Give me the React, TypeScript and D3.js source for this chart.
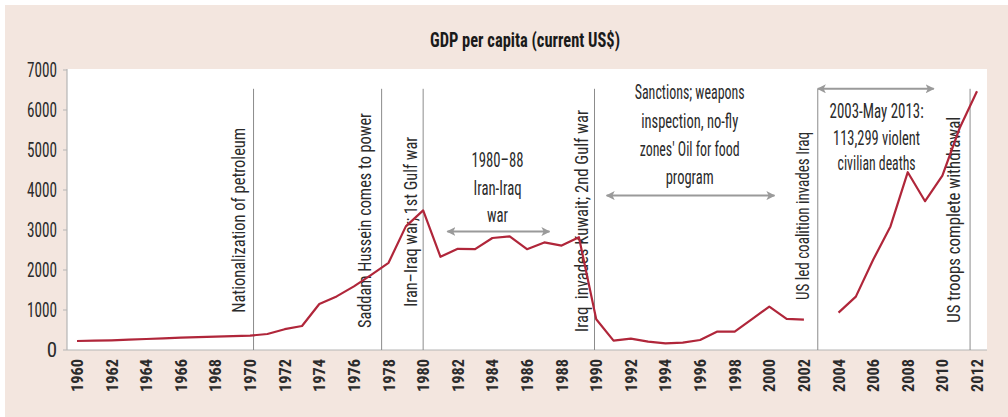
import React from "react";
import * as d3 from "d3";

const years: number[] = [
  1960, 1961, 1962, 1963, 1964, 1965, 1966, 1967, 1968, 1969,
  1970, 1971, 1972, 1973, 1974, 1975, 1976, 1977, 1978, 1979,
  1980, 1981, 1982, 1983, 1984, 1985, 1986, 1987, 1988, 1989,
  1990, 1991, 1992, 1993, 1994, 1995, 1996, 1997, 1998, 1999,
  2000, 2001, 2002, 2003, 2004, 2005, 2006, 2007, 2008, 2009,
  2010, 2011, 2012,
];
const gdp: (number | null)[] = [
  225, 235, 243, 258, 275, 292, 310, 322, 335, 348,
  360, 400, 520, 600, 1150, 1340, 1590, 1880, 2180, 3090,
  3490, 2330, 2530, 2520, 2800, 2840, 2520, 2690, 2610, 2820,
  770, 235, 285, 210, 165, 185, 250, 460, 460, 770,
  1085, 780, 760, null, 935, 1335, 2255, 3090, 4445, 3720,
  4360, 5550, 6470,
];
const yTicks: number[] = [0, 1000, 2000, 3000, 4000, 5000, 6000, 7000];
const xTickYears: number[] = d3.range(1960, 2013, 2);

const eventYears: number[] = [1970.2, 1977.6, 1980, 1989.9, 2002.8, 2011.6];
const eventLabels: string[] = [
  "Nationalization of petroleum",
  "Saddam Hussein comes to power",
  "Iran–Iraq war; 1st Gulf war",
  "Iraq  invades Kuwait; 2nd Gulf war",
  "US led coalition invades Iraq",
  "US troops complete withdrawal",
];
const eventLabelLengths: number[] = [185, 215, 170, 222, 168, 206];
const eventLabelStartValue: number[] = [930, 550, 1080, 450, 1250, 680];
const eventLabelOffset: number[] = [-9, -11, -6, -7, -9, -10];

const periodTexts: string[][] = [
  ["1980–88", "Iran-Iraq", "war"],
  ["Sanctions; weapons", "inspection, no-fly", "zones' Oil for food", "program"],
  ["2003-May 2013:", "113,299 violent", "civilian deaths"],
];
const periodTextWidths: number[][] = [
  [52, 48, 21],
  [110, 97, 100, 48],
  [94, 87, 78],
];
const periodArrows: [number, number][] = [
  [1981.4, 1987.3],
  [1990.6, 2000.3],
  [2002.8, 2009.5],
];
const periodArrowValue: number[] = [2960, 3860, 6530];
const periodCenter: number[] = [1984.3, 1995.4, 2006.2];
const periodBaselineValues: number[][] = [
  [4580, 3880, 3200],
  [6270, 5560, 4850, 4150],
  [5800, 5130, 4500],
];

const W = 1008;
const H = 417;
const plotL = 67;
const plotR = 987;
const plotT = 69;
const plotB = 350;

const FONT = "'Liberation Sans Narrow', 'Roboto Condensed', 'Liberation Sans', Arial, sans-serif";
const LINE_COLOR = "#b0263a";
const TEXT_COLOR = "#2b2b2b";

export default function App() {
  const x = d3.scaleLinear().domain([1960, 2012]).range([77, 977]);
  const y = d3.scaleLinear().domain([0, 7000]).range([plotB, plotT + 1]);

  const pts = years.map((yr, i) => ({ yr, v: gdp[i] }));
  const line = d3
    .line<{ yr: number; v: number | null }>()
    .defined((d) => d.v !== null)
    .x((d) => x(d.yr))
    .y((d) => y(d.v as number));

  return (
    <svg
      width={W}
      height={H}
      style={{ position: "absolute", left: 0, top: 0 }}
      fontFamily={FONT}
    >
      <defs>
        <marker
          id="ah"
          viewBox="0 0 10 10"
          refX="9"
          refY="5"
          markerWidth="4.5"
          markerHeight="4.5"
          orient="auto-start-reverse"
        >
          <path d="M0,0 L10,5 L0,10 L2.5,5 Z" fill="#9a9a9a" />
        </marker>
      </defs>
      <rect x={0} y={0} width={W} height={H} fill="#ffffff" />
      <rect x={5} y={5} width={W - 5} height={H - 5} fill="#f3e6df" />
      <rect x={plotL} y={plotT} width={plotR - plotL} height={plotB - plotT} fill="#ffffff" />

      {/* title */}
      <text
        x={525}
        y={47}
        textAnchor="middle"
        fontSize={20}
        fontWeight="bold"
        fill="#1a1a1a"
        textLength={190}
        lengthAdjust="spacingAndGlyphs"
      >
        GDP per capita (current US$)
      </text>

      {/* axes */}
      <line x1={plotL} x2={plotL} y1={plotT} y2={plotB} stroke="#b5b5b5" strokeWidth={1.2} />
      <line x1={plotL} x2={plotR} y1={plotB} y2={plotB} stroke="#b5b5b5" strokeWidth={1.2} />
      {yTicks.map((t) => (
        <g key={"yt" + t}>
          <line x1={plotL - 4} x2={plotL} y1={y(t)} y2={y(t)} stroke="#b5b5b5" strokeWidth={1} />
          <text
            x={57}
            y={y(t) + 7}
            textAnchor="end"
            fontSize={21}
            fill={TEXT_COLOR}
            textLength={t === 0 ? undefined : 30}
            lengthAdjust="spacingAndGlyphs"
          >
            {t}
          </text>
        </g>
      ))}
      {xTickYears.map((yr) => (
        <text
          key={"xt" + yr}
          transform={`translate(${x(yr) + 6},${359}) rotate(-90)`}
          textAnchor="end"
          fontSize={17}
          fontWeight="bold"
          fill={TEXT_COLOR}
          textLength={33}
          lengthAdjust="spacingAndGlyphs"
        >
          {yr}
        </text>
      ))}

      {/* event lines */}
      {eventYears.map((ey, i) => (
        <g key={"ev" + i}>
          <line
            x1={x(ey)}
            x2={x(ey)}
            y1={y(6530)}
            y2={plotB}
            stroke="#8c8c8c"
            strokeWidth={1}
          />
          <text
            transform={`translate(${x(ey) + eventLabelOffset[i]},${y(eventLabelStartValue[i])}) rotate(-90)`}
            fontSize={18}
            fill={TEXT_COLOR}
            textLength={eventLabelLengths[i]}
            lengthAdjust="spacingAndGlyphs"
            style={{ whiteSpace: "pre" }}
          >
            {eventLabels[i]}
          </text>
        </g>
      ))}

      {/* period annotations */}
      {periodTexts.map((lines, pi) => (
        <g key={"p" + pi}>
          {lines.map((s, li) => (
            <text
              key={li}
              x={x(periodCenter[pi])}
              y={y(periodBaselineValues[pi][li])}
              textAnchor="middle"
              fontSize={20}
              fill={TEXT_COLOR}
              textLength={periodTextWidths[pi][li]}
              lengthAdjust="spacingAndGlyphs"
            >
              {s}
            </text>
          ))}
          <line
            x1={x(periodArrows[pi][0])}
            x2={x(periodArrows[pi][1])}
            y1={y(periodArrowValue[pi])}
            y2={y(periodArrowValue[pi])}
            stroke="#9a9a9a"
            strokeWidth={2}
            markerStart="url(#ah)"
            markerEnd="url(#ah)"
          />
        </g>
      ))}

      {/* data line */}
      <path d={line(pts) || ""} fill="none" stroke={LINE_COLOR} strokeWidth={2.2} strokeLinejoin="round" />
    </svg>
  );
}
